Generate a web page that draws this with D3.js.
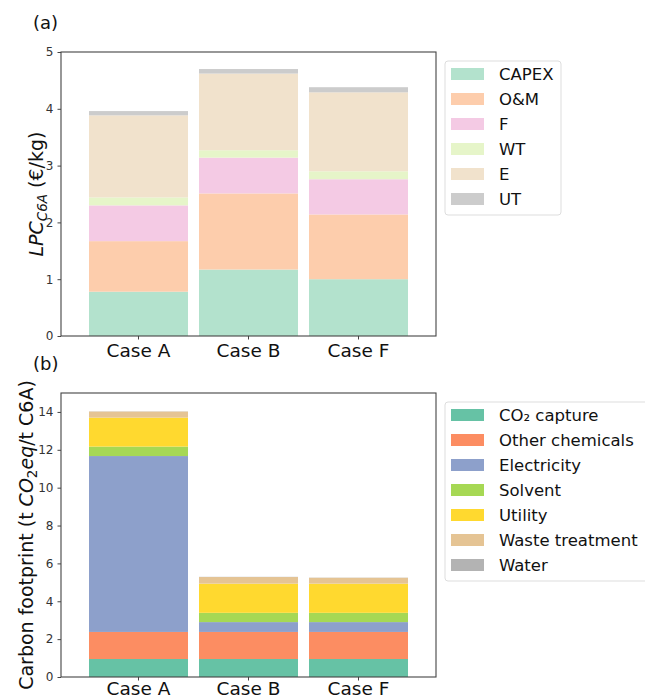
<!DOCTYPE html>
<html>
<head>
<meta charset="utf-8">
<script src="https://cdn.jsdelivr.net/npm/d3@7"></script>
<style>
  body { margin: 0; background: #fff; }
  svg { display: block; font-family: "DejaVu Sans", sans-serif; }
</style>
</head>
<body>
<svg id="chart" width="645" height="700"></svg>
<script>
// Cases compared in both panels
const cases = ["Case A", "Case B", "Case F"];

// (a) Levelized production cost of C6A, €/kg, by component
const costKeys = ["CAPEX", "O&M", "F", "WT", "E", "UT"];
const costCAPEX = [0.78, 1.17, 1.00];
const costOM    = [0.89, 1.34, 1.14];
const costF     = [0.63, 0.63, 0.62];
const costWT    = [0.14, 0.13, 0.14];
const costE     = [1.445, 1.35, 1.39];
const costUT    = [0.075, 0.08, 0.09];
const costColors = ["#b3e2cd", "#fdcdac", "#f4cae4", "#e6f5c9", "#f1e2cc", "#cccccc"];
const costTicks = [0, 1, 2, 3, 4, 5];

// (b) Carbon footprint, t CO2eq / t C6A, by source
const cfKeys = ["CO₂ capture", "Other chemicals", "Electricity", "Solvent", "Utility", "Waste treatment", "Water"];
const cfCapture   = [0.95, 0.95, 0.95];
const cfChemicals = [1.43, 1.43, 1.43];
const cfElec      = [9.29, 0.52, 0.52];
const cfSolvent   = [0.50, 0.49, 0.49];
const cfUtility   = [1.53, 1.54, 1.54];
const cfWaste     = [0.32, 0.35, 0.31];
const cfWater     = [0.01, 0.01, 0.01];
const cfColors = ["#66c2a5", "#fc8d62", "#8da0cb", "#a6d854", "#ffd92f", "#e5c494", "#b3b3b3"];
const cfTicks = [0, 2, 4, 6, 8, 10, 12, 14];

const svg = d3.select("#chart");

function rows(keys, series) {
  return cases.map((c, i) => {
    const r = { case: c };
    keys.forEach((k, j) => { r[k] = series[j][i]; });
    return r;
  });
}

function panel(opts) {
  const { top, bottom, left, right, keys, series, colors, yMax, ticks, tag, tagY, legendTop, legendWidth, xPad } = opts;
  const g = svg.append("g");
  const x = d3.scaleBand().domain(cases).range([left, right]).paddingInner(0.1).paddingOuter(0.2545);
  const y = d3.scaleLinear().domain([0, yMax]).range([bottom, top]);
  const data = rows(keys, series);
  const stacked = d3.stack().keys(keys)(data);

  g.selectAll("g.layer").data(stacked).join("g")
    .attr("fill", (d, i) => colors[i])
    .selectAll("rect").data(d => d).join("rect")
    .attr("x", d => x(d.data.case))
    .attr("width", x.bandwidth())
    .attr("y", d => y(d[1]))
    .attr("height", d => y(d[0]) - y(d[1]));

  // y axis
  const ya = g.append("g").attr("transform", `translate(${left},0)`)
    .call(d3.axisLeft(y).tickValues(ticks).tickSize(3.5).tickPadding(4).tickFormat(d3.format("d")));
  ya.select(".domain").remove();
  ya.selectAll("line").attr("stroke", "#444");
  ya.selectAll("text").attr("font-size", 12).attr("fill", "#333").attr("font-family", "DejaVu Sans");

  // x axis
  const xa = g.append("g").attr("transform", `translate(0,${bottom})`)
    .call(d3.axisBottom(x).tickSize(3.5).tickPadding(xPad));
  xa.select(".domain").remove();
  xa.selectAll("line").attr("stroke", "#444");
  xa.selectAll("text").attr("font-size", 18.5).attr("fill", "#111").attr("font-family", "DejaVu Sans");

  // frame
  g.append("rect").attr("x", left).attr("y", top)
    .attr("width", right - left).attr("height", bottom - top)
    .attr("fill", "none").attr("stroke", "#444").attr("stroke-width", 1.1);

  // panel tag
  svg.append("text").attr("x", 33).attr("y", tagY).attr("font-size", 18).attr("fill", "#111").text(tag);

  // legend
  const lg = svg.append("g");
  const lx = 445, rowH = 25;
  lg.append("rect").attr("x", lx).attr("y", legendTop)
    .attr("width", legendWidth).attr("height", keys.length * rowH + 4)
    .attr("rx", 3).attr("fill", "#fff").attr("stroke", "#ddd");
  keys.forEach((k, i) => {
    const cy = legendTop + 13 + i * rowH;
    lg.append("rect").attr("x", 451).attr("y", cy - 6).attr("width", 33).attr("height", 12).attr("fill", colors[i]);
    lg.append("text").attr("x", 499).attr("y", cy + 6).attr("font-size", 16.5).attr("fill", "#111").text(k);
  });
  return { x, y };
}

panel({
  top: 52, bottom: 336, left: 61, right: 436,
  keys: costKeys,
  series: [costCAPEX, costOM, costF, costWT, costE, costUT],
  colors: costColors, yMax: 5, ticks: costTicks,
  tag: "(a)", tagY: 29, legendTop: 61, legendWidth: 116, xPad: 4
});

panel({
  top: 393, bottom: 677, left: 61, right: 436,
  keys: cfKeys,
  series: [cfCapture, cfChemicals, cfElec, cfSolvent, cfUtility, cfWaste, cfWater],
  colors: cfColors, yMax: 15, ticks: cfTicks,
  tag: "(b)", tagY: 370, legendTop: 402, legendWidth: 205, xPad: 1.5
});

// y axis titles
const yl1 = svg.append("text")
  .attr("transform", "translate(43,194) rotate(-90)")
  .attr("text-anchor", "middle").attr("font-size", 19).attr("fill", "#111");
yl1.append("tspan").attr("font-style", "italic").text("LPC");
yl1.append("tspan").attr("font-style", "italic").attr("font-size", 13.5).attr("dy", 4).text("C6A");
yl1.append("tspan").attr("dy", -4).text(" (€/kg)");

const yl2 = svg.append("text")
  .attr("transform", "translate(33,535) rotate(-90)")
  .attr("text-anchor", "middle").attr("font-size", 19).attr("fill", "#111");
yl2.append("tspan").text("Carbon footprint (t ");
yl2.append("tspan").attr("font-style", "italic").text("CO");
yl2.append("tspan").attr("font-size", 13.5).attr("dy", 4).text("2");
yl2.append("tspan").attr("font-style", "italic").attr("dy", -4).text("eq");
yl2.append("tspan").text("/t C6A)");
</script>
</body>
</html>
